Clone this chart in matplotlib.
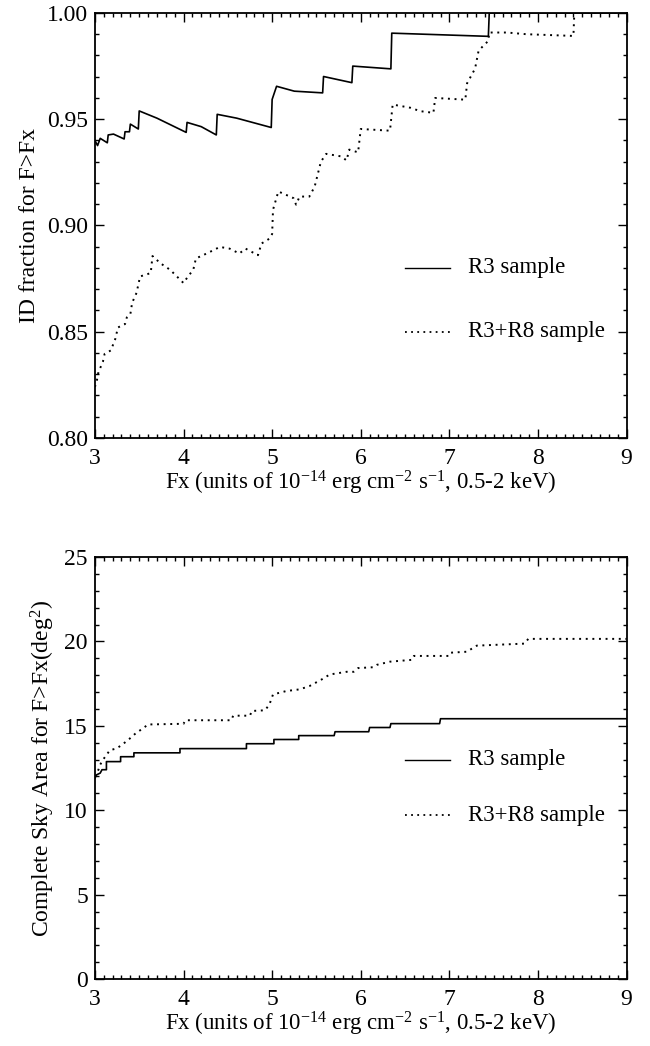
import numpy as np
import matplotlib
matplotlib.use('Agg')
from matplotlib import pyplot as plt
from matplotlib.ticker import MultipleLocator, FormatStrFormatter

plt.rcParams['font.family'] = ['Liberation Serif', 'DejaVu Serif']
plt.rcParams['mathtext.fontset'] = 'custom'
plt.rcParams['mathtext.rm'] = 'Liberation Serif'
plt.rcParams['mathtext.it'] = 'Liberation Serif'

# ID fraction for F>Fx, R3 sample (solid)
id_r3_fx = [3.00, 3.03, 3.06, 3.14, 3.15, 3.21, 3.33, 3.34, 3.39, 3.40, 3.49, 3.50,
            3.70, 4.03, 4.04, 4.20, 4.37, 4.38, 4.60, 4.99, 5.00, 5.05, 5.25, 5.57,
            5.58, 5.90, 5.91, 6.34, 6.35, 7.44, 7.45, 9.00]
id_r3_frac = [0.940, 0.9376, 0.941, 0.9389, 0.9426, 0.943, 0.9407, 0.9441, 0.9441, 0.9477, 0.9454, 0.9539,
              0.9505, 0.9438, 0.9485, 0.9465, 0.9426, 0.9523, 0.9505, 0.9461, 0.9593, 0.9655, 0.9632, 0.9624,
              0.9701, 0.9672, 0.9750, 0.9737, 0.9905, 0.9890, 1.000, 1.000]

# ID fraction for F>Fx, R3+R8 sample (dotted)
id_r38_fx = [3.00, 3.02, 3.04, 3.09, 3.11, 3.18, 3.23, 3.26, 3.34, 3.36, 3.40, 3.42, 3.47,
             3.51, 3.63, 3.65, 3.74, 3.85, 4.00, 4.05, 4.11, 4.14, 4.22, 4.30, 4.41, 4.52,
             4.63, 4.70, 4.84, 4.88, 4.97, 5.00, 5.01, 5.07, 5.24, 5.27, 5.31, 5.42, 5.48,
             5.55, 5.61, 5.78, 5.84, 5.87, 5.97, 6.00, 6.33, 6.36, 6.56, 6.67, 6.82, 6.84,
             7.18, 7.20, 7.29, 7.33, 7.44, 7.45, 7.65, 7.87, 8.40, 8.41, 9.00]
id_r38_frac = [0.824, 0.8265, 0.831, 0.8358, 0.8396, 0.8412, 0.8466, 0.852, 0.8536, 0.8567, 0.8582, 0.8636, 0.8683,
               0.876, 0.8776, 0.8856, 0.8822, 0.8791, 0.8729, 0.876, 0.8791, 0.8845, 0.886, 0.8876, 0.8899, 0.8891,
               0.8868, 0.8891, 0.886, 0.8915, 0.8938, 0.8960, 0.9074, 0.916, 0.9129, 0.9098, 0.9136, 0.9136, 0.9183,
               0.930, 0.9337, 0.9325, 0.9306, 0.9357, 0.9344, 0.9454, 0.9446, 0.9569, 0.9554, 0.9538, 0.953, 0.960,
               0.9592, 0.9669, 0.9738, 0.9823, 0.9869, 0.9908, 0.9908, 0.990, 0.9892, 1.000, 1.000]

# Complete sky area for F>Fx (deg^2), R3 sample (solid)
area_r3_fx = [3.00, 3.02, 3.06, 3.08, 3.13, 3.13, 3.29, 3.29, 3.44, 3.44, 3.96, 3.96, 4.71, 4.71,
              5.02, 5.02, 5.30, 5.30, 5.70, 5.71, 6.09, 6.10, 6.33, 6.34, 6.89, 6.90, 9.00]
area_r3 = [11.9, 12.1, 12.2, 12.4, 12.4, 12.88, 12.88, 13.17, 13.17, 13.4, 13.4, 13.65, 13.65, 13.94,
           13.94, 14.19, 14.19, 14.42, 14.42, 14.65, 14.65, 14.9, 14.9, 15.13, 15.13, 15.42, 15.42]

# Complete sky area for F>Fx (deg^2), R3+R8 sample (dotted)
area_r38_fx = [3.00, 3.04, 3.06, 3.09, 3.13, 3.17, 3.24, 3.30, 3.39, 3.47, 3.53, 3.60, 4.00, 4.02,
               4.54, 4.56, 4.75, 4.77, 4.92, 4.97, 5.01, 5.16, 5.31, 5.42, 5.56, 5.65, 5.84, 5.92,
               5.97, 6.14, 6.18, 6.33, 6.58, 6.60, 6.99, 7.01, 7.20, 7.25, 7.31, 7.85, 7.89, 9.00]
area_r38 = [12.0, 12.4, 12.7, 12.98, 13.27, 13.56, 13.65, 13.85, 14.23, 14.6, 14.8, 15.08, 15.12, 15.33,
            15.33, 15.6, 15.6, 15.88, 15.92, 16.27, 16.86, 17.06, 17.16, 17.35, 17.75, 18.04, 18.2, 18.2,
            18.42, 18.47, 18.61, 18.8, 18.91, 19.14, 19.14, 19.33, 19.39, 19.56, 19.75, 19.87, 20.15, 20.15]

legend_names = ['R3 sample', 'R3+R8 sample']
xlabel = r'Fx (units of 10$^{\mathregular{-14}}$ erg cm$^{\mathregular{-2}}$ s$^{\mathregular{-1}}$, 0.5-2 keV)'

fig = plt.figure(figsize=(6.5, 10.46), dpi=100)
ax1 = fig.add_axes([0.146, 0.5813, 0.818, 0.4063])
ax2 = fig.add_axes([0.146, 0.0640, 0.818, 0.4035])

FS = 17
DOT = (0, (1, 2.4))


def style_axis(ax, ymajor, yminor):
    ax.set_xlim(3, 9)
    ax.xaxis.set_major_locator(MultipleLocator(1))
    ax.xaxis.set_minor_locator(MultipleLocator(0.1))
    ax.yaxis.set_major_locator(MultipleLocator(ymajor))
    ax.yaxis.set_minor_locator(MultipleLocator(yminor))
    ax.tick_params(which='both', direction='in', top=True, right=True, labelsize=FS, width=1.0)
    ax.tick_params(which='major', length=6.5)
    ax.tick_params(which='minor', length=3)
    ax.tick_params(axis='x', which='major', pad=7)
    ax.tick_params(axis='y', which='major', pad=5)
    for sp in ax.spines.values():
        sp.set_linewidth(1.3)


# top panel
ax1.plot(id_r3_fx, id_r3_frac, color='black', lw=1.2, ls='-')
ax1.plot(id_r38_fx, id_r38_frac, color='black', lw=1.4, ls=DOT)
style_axis(ax1, 0.05, 0.01)
ax1.set_ylim(0.80, 1.00)
ax1.yaxis.set_major_formatter(FormatStrFormatter('%.2f'))
ax1.set_xlabel(xlabel, fontsize=16.5, labelpad=0)
ax1.set_ylabel('ID fraction for F>Fx', fontsize=FS, labelpad=5)
ax1.plot([6.50, 7.01], [0.880, 0.880], color='black', lw=1.0, ls='-')
ax1.plot([6.50, 7.01], [0.850, 0.850], color='black', lw=1.3, ls=DOT)
ax1.text(7.21, 0.880, legend_names[0], fontsize=16.5, va='center')
ax1.text(7.21, 0.850, legend_names[1], fontsize=16.5, va='center')

# bottom panel
ax2.plot(area_r3_fx, area_r3, color='black', lw=1.2, ls='-')
ax2.plot(area_r38_fx, area_r38, color='black', lw=1.4, ls=DOT)
style_axis(ax2, 5, 1)
ax2.set_ylim(0, 25)
ax2.set_xlabel(xlabel, fontsize=16.5, labelpad=0)
ax2.set_ylabel(r'Complete Sky Area for F>Fx(deg$^{\mathregular{2}}$)', fontsize=FS, labelpad=5)
ax2.plot([6.50, 7.01], [13.0, 13.0], color='black', lw=1.0, ls='-')
ax2.plot([6.50, 7.01], [9.7, 9.7], color='black', lw=1.3, ls=DOT)
ax2.text(7.21, 13.0, legend_names[0], fontsize=16.5, va='center')
ax2.text(7.21, 9.7, legend_names[1], fontsize=16.5, va='center')

fig.savefig('out.png', dpi=100)
